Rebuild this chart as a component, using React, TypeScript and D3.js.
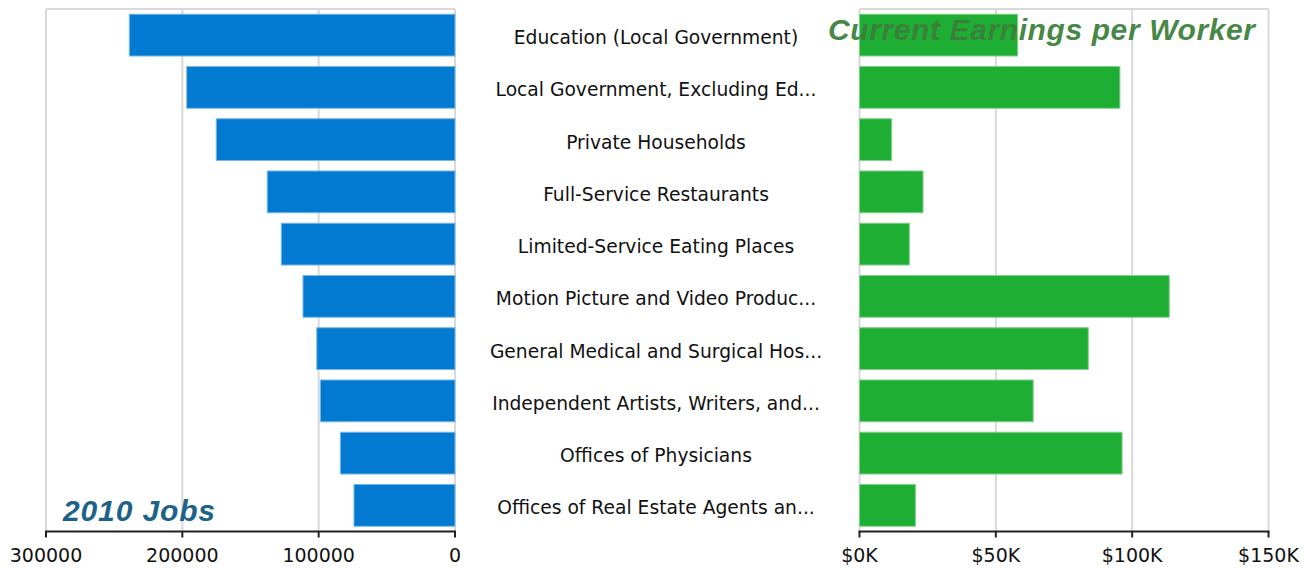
import * as d3 from "d3";

const industries = [
  "Education (Local Government)",
  "Local Government, Excluding Ed...",
  "Private Households",
  "Full-Service Restaurants",
  "Limited-Service Eating Places",
  "Motion Picture and Video Produc...",
  "General Medical and Surgical Hos...",
  "Independent Artists, Writers, and...",
  "Offices of Physicians",
  "Offices of Real Estate Agents an...",
];
const jobs2010 = [238900, 196800, 175100, 137700, 127400, 111500, 101400, 98800, 84100, 74100];
const earnings = [58000, 95500, 11800, 23300, 18300, 113600, 83900, 63700, 96300, 20500];
const jobTicks = [300000, 200000, 100000, 0];
const earnTicks = [0, 50000, 100000, 150000];

const width = 1311;
const height = 568;
const top = 9;
const bottom = 531.5;
const leftL = 46, leftR = 455;
const rightL = 859.5, rightR = 1268.5;
const font = "'DejaVu Sans', sans-serif";
const titleFont = "'Liberation Sans', Arial, sans-serif";

export default function App() {
  const y = d3.scaleBand(industries, [top, bottom]).paddingInner(0.2).paddingOuter(0.1);
  const xJobs = d3.scaleLinear([0, 300000], [leftR, leftL]);
  const xEarn = d3.scaleLinear([0, 150000], [rightL, rightR]);
  const fmtEarn = (d) => `$${d / 1000}K`;

  return (
    <svg width={width} height={height} style={{ position: "absolute", left: 0, top: 0, background: "#fff" }}>
      {/* left panel: 2010 jobs, axis reversed */}
      <g>
        {jobTicks.map(t => (
          <line key={t} x1={xJobs(t)} x2={xJobs(t)} y1={top} y2={bottom} stroke="#d9d9d9" strokeWidth={2} />
        ))}
        <line x1={leftL} x2={leftR} y1={top} y2={top} stroke="#d9d9d9" strokeWidth={2} />
        {industries.map((c, i) => (
          <rect key={c} x={xJobs(jobs2010[i])} y={y(c)} width={xJobs(0) - xJobs(jobs2010[i])} height={y.bandwidth()}
            fill="#037ad1" stroke="#7ab8e8" strokeWidth={1} />
        ))}
        <line x1={leftL - 1} x2={leftR + 1} y1={bottom} y2={bottom} stroke="#222" strokeWidth={2} />
        {jobTicks.map(t => (
          <g key={t} transform={`translate(${xJobs(t)},${bottom})`}>
            <line y2={6} stroke="#222" strokeWidth={2} />
            <text y={30} textAnchor="middle" fontFamily={font} fontSize={19} fill="#111">{d3.format("d")(t)}</text>
          </g>
        ))}
        <text x={63} y={521} fontFamily={titleFont} fontWeight="bold" fontStyle="italic"
          fontSize={30} textLength={152} lengthAdjust="spacing" fill="#1d6389">2010 Jobs</text>
      </g>

      {/* category labels in the middle */}
      {industries.map(c => (
        <text key={c} x={656} y={y(c) + y.bandwidth() / 2 + 9} textAnchor="middle" fontFamily={font} fontSize={18.7} fill="#111">{c}</text>
      ))}

      {/* right panel: earnings */}
      <g>
        {earnTicks.map(t => (
          <line key={t} x1={xEarn(t)} x2={xEarn(t)} y1={top} y2={bottom} stroke="#d9d9d9" strokeWidth={2} />
        ))}
        <line x1={rightL} x2={rightR} y1={top} y2={top} stroke="#d9d9d9" strokeWidth={2} />
        {industries.map((c, i) => (
          <rect key={c} x={xEarn(0)} y={y(c)} width={xEarn(earnings[i]) - xEarn(0)} height={y.bandwidth()}
            fill="#1fae34" stroke="#86d08f" strokeWidth={1} />
        ))}
        <line x1={rightL - 1} x2={rightR + 1} y1={bottom} y2={bottom} stroke="#222" strokeWidth={2} />
        {earnTicks.map(t => (
          <g key={t} transform={`translate(${xEarn(t)},${bottom})`}>
            <line y2={6} stroke="#222" strokeWidth={2} />
            <text y={30} textAnchor="middle" fontFamily={font} fontSize={19} fill="#111">{fmtEarn(t)}</text>
          </g>
        ))}
        <text x={828} y={40} fontFamily={titleFont} fontWeight="bold" fontStyle="italic"
          fontSize={30} textLength={427} lengthAdjust="spacing" fill="#3b7f3b" fillOpacity={0.95}>Current Earnings per Worker</text>
      </g>
    </svg>
  );
}
